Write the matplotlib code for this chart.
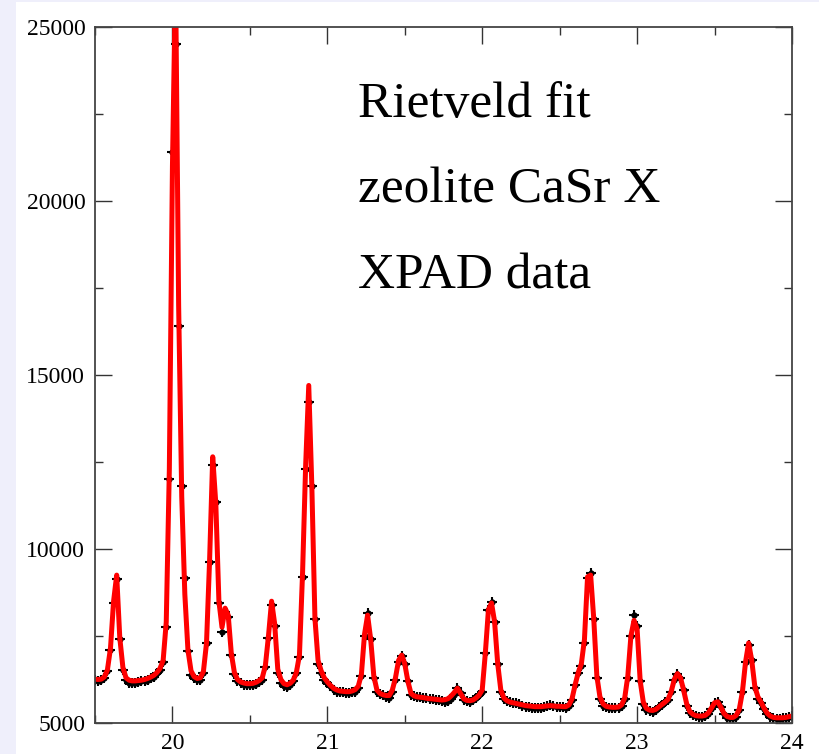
import matplotlib.pyplot as plt
import numpy as np
from matplotlib.patches import Rectangle

# 2-theta grid: 19.50 .. 24.00, step 0.02 deg
two_theta = np.round(19.5 + 0.02 * np.arange(226), 2)

# observed intensity (black symbols)
obs = [
    6250, 6220, 6230, 6300, 6480, 7100, 8450, 9150, 7400, 6520,      # 19.50
    6240, 6150, 6140, 6160, 6190, 6200, 6220, 6250, 6290, 6320,      # 19.70
    6430, 6530, 6750, 7760, 12000, 21400, 24500, 16400, 11800, 9170,  # 19.90
    7070, 6380, 6290, 6240, 6240, 6430, 7300, 9630, 12400, 11350,    # 20.10
    8450, 7620, 8200, 8050, 6950, 6400, 6200, 6150, 6100, 6090,      # 20.30
    6090, 6090, 6120, 6180, 6240, 6600, 7450, 8400, 7800, 6450,      # 20.50
    6150, 6050, 6030, 6100, 6200, 6450, 6900, 9200, 12300, 14230,    # 20.70
    11800, 8000, 6700, 6450, 6250, 6150, 6050, 5950, 5900, 5880,     # 20.90
    5880, 5870, 5860, 5880, 5900, 6000, 6350, 7500, 8150, 7400,      # 21.10
    6300, 5900, 5830, 5800, 5760, 5730, 5900, 6250, 6750, 6920,      # 21.30
    6700, 6200, 5800, 5770, 5750, 5740, 5720, 5710, 5700, 5680,      # 21.50
    5660, 5650, 5630, 5610, 5640, 5700, 5800, 6000, 5850, 5660,      # 21.70
    5620, 5610, 5650, 5720, 5800, 5900, 7000, 8250, 8490, 7900,      # 21.90
    6700, 5900, 5680, 5620, 5590, 5580, 5570, 5540, 5500, 5470,      # 22.10
    5450, 5440, 5430, 5430, 5440, 5470, 5490, 5510, 5490, 5470,      # 22.30
    5460, 5450, 5440, 5480, 5650, 6100, 6450, 6650, 7300, 9160,      # 22.50
    9300, 8000, 6300, 5700, 5500, 5460, 5440, 5430, 5430, 5430,      # 22.70
    5500, 5700, 6300, 7500, 8100, 7800, 6200, 5550, 5370, 5340,      # 22.90
    5320, 5360, 5450, 5520, 5600, 5650, 5900, 6250, 6420, 6300,      # 23.10
    5950, 5500, 5280, 5220, 5190, 5180, 5180, 5190, 5250, 5400,      # 23.30
    5580, 5610, 5450, 5250, 5150, 5130, 5130, 5180, 5370, 5900,      # 23.50
    6760, 7250, 6800, 6000, 5700, 5580, 5400, 5250, 5170, 5130,      # 23.70
    5120, 5120, 5130, 5150, 5180, 5200,                              # 23.90
]

# calculated (Rietveld) profile, red line
calc = [
    6260, 6250, 6260, 6320, 6520, 7150, 8500, 9250, 7450, 6600,
    6300, 6230, 6210, 6210, 6220, 6230, 6250, 6280, 6320, 6370,
    6450, 6570, 6800, 7900, 12300, 21000, 26500, 17000, 11500, 8700,
    7100, 6500, 6330, 6280, 6300, 6480, 7300, 9700, 12650, 11300,
    8500, 7750, 8300, 8100, 7000, 6450, 6250, 6180, 6150, 6130,
    6130, 6140, 6170, 6220, 6300, 6650, 7500, 8500, 7850, 6550,
    6250, 6130, 6100, 6140, 6230, 6450, 6950, 9300, 12400, 14700,
    11800, 8000, 6800, 6500, 6300, 6180, 6080, 6000, 5950, 5920,
    5910, 5900, 5900, 5920, 5960, 6060, 6400, 7550, 8100, 7400,
    6350, 5950, 5850, 5810, 5790, 5790, 5950, 6300, 6800, 6950,
    6700, 6200, 5850, 5780, 5750, 5740, 5730, 5710, 5700, 5690,
    5680, 5670, 5660, 5670, 5700, 5780, 5880, 6000, 5850, 5700,
    5650, 5640, 5660, 5720, 5800, 5950, 7000, 8250, 8450, 7900,
    6700, 5950, 5720, 5640, 5600, 5580, 5560, 5540, 5520, 5500,
    5490, 5480, 5470, 5470, 5470, 5480, 5490, 5500, 5490, 5480,
    5480, 5470, 5470, 5520, 5700, 6100, 6450, 6700, 7400, 9200,
    9250, 8000, 6350, 5750, 5550, 5480, 5460, 5450, 5450, 5460,
    5520, 5720, 6350, 7500, 7950, 7700, 6200, 5600, 5420, 5370,
    5360, 5390, 5460, 5530, 5600, 5680, 5900, 6250, 6420, 6300,
    5950, 5550, 5330, 5250, 5210, 5200, 5200, 5220, 5290, 5430,
    5580, 5610, 5460, 5280, 5190, 5160, 5160, 5220, 5400, 5900,
    6750, 7300, 6800, 6050, 5750, 5600, 5420, 5280, 5200, 5160,
    5150, 5150, 5150, 5160, 5180, 5200,
]

x_ticks = [20, 21, 22, 23, 24]
y_ticks = [5000, 10000, 15000, 20000, 25000]
notes = ["Rietveld fit", "zeolite CaSr X", "XPAD data"]

serif = "Liberation Serif"

fig = plt.figure(figsize=(8.2, 7.54), dpi=100, facecolor="#efeffb")
fig.add_artist(Rectangle((16 / 820, 0), 1, 1 - 2 / 754, transform=fig.transFigure,
                         facecolor="white", edgecolor="none", zorder=-5))

ax = fig.add_axes([95 / 820, 31 / 754, 697 / 820, 696 / 754])
ax.set_facecolor("white")

ax.plot(two_theta, obs, linestyle="none", marker="+", ms=7, mew=1.5, color="black")
ax.plot(two_theta, obs, linestyle="none", marker="o", ms=3.5, color="black")
ax.plot(two_theta, calc, color="red", lw=3.6)

ax.set_xlim(19.5, 24)
ax.set_ylim(5000, 25000)
ax.set_xticks(x_ticks)
ax.set_xticks([19.5, 20.5, 21.5, 22.5, 23.5], minor=True)
ax.set_yticks(y_ticks)
ax.set_yticks([7500, 12500, 17500, 22500], minor=True)
ax.tick_params(which="both", direction="in", top=True, right=True, color="#333333", width=1)
ax.tick_params(which="major", length=12.5, pad=7)
ax.tick_params(which="minor", length=6)
for lab in ax.get_xticklabels() + ax.get_yticklabels():
    lab.set_fontfamily(serif)
    lab.set_fontsize(17)
for s in ax.spines.values():
    s.set_color("#444444")
    s.set_linewidth(1.3)

for i, t in enumerate(notes):
    ax.text(0.377, 0.871 - i * 0.1236, t, transform=ax.transAxes, fontsize=37,
            family=serif, va="baseline", ha="left")

plt.savefig("out.png", dpi=100, facecolor=fig.get_facecolor())
